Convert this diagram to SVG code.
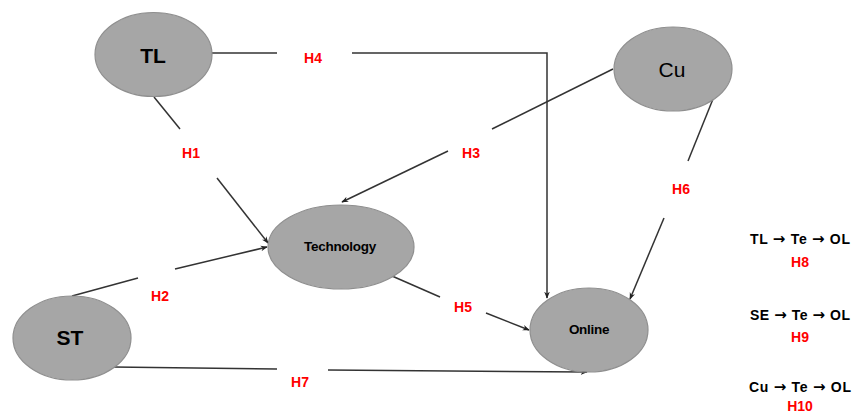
<svg xmlns="http://www.w3.org/2000/svg" width="857" height="416" viewBox="0 0 857 416">
<style>
.node{fill:#a6a6a6;stroke:#8f8f8f;stroke-width:1.2}
.lbl{font-family:"Liberation Sans",Arial,sans-serif;fill:#000;text-anchor:middle;dominant-baseline:central}
.big{font-size:21px;font-weight:bold}
.cu{font-size:21px;font-weight:normal}
.small{font-size:13.5px;font-weight:bold;letter-spacing:-0.3px}
.h{font-family:"Liberation Sans",Arial,sans-serif;font-size:14px;font-weight:bold;fill:#ff0000;text-anchor:middle;dominant-baseline:central}
.leg{font-family:"Liberation Sans",Arial,sans-serif;font-size:14px;font-weight:bold;fill:#000;text-anchor:middle;dominant-baseline:central}
.ar{font-family:"DejaVu Sans",sans-serif;font-weight:bold;font-size:15px}
.c{fill:none;stroke:#333;stroke-width:1.5}
</style>
<defs>
<marker id="arr" viewBox="0 0 10 10" refX="9" refY="5" markerWidth="7" markerHeight="7" orient="auto" markerUnits="userSpaceOnUse">
<path d="M0,1 L10,5 L0,9 L3,5 Z" fill="#222"/>
</marker>
</defs>
<rect width="857" height="416" fill="#fff"/>
<g id="connectors">
<path class="c" d="M212,53 L277,53"/>
<path class="c" d="M352,53 L547,53 L547,298" marker-end="url(#arr)"/>
<path class="c" d="M154,97 L180,129"/>
<path class="c" d="M217,178 L268,243" marker-end="url(#arr)"/>
<path class="c" d="M613,69 L492,129"/>
<path class="c" d="M448,151 L342,202" marker-end="url(#arr)"/>
<path class="c" d="M713,99 L688,161"/>
<path class="c" d="M664,218 L630,299" marker-end="url(#arr)"/>
<path class="c" d="M72,296 L138,278"/>
<path class="c" d="M175,269 L267,247" marker-end="url(#arr)"/>
<path class="c" d="M392,276 L440,297"/>
<path class="c" d="M486,313 L529,330" marker-end="url(#arr)"/>
<path class="c" d="M113,367 L277,369"/>
<path class="c" d="M328,370 L587,372" marker-end="url(#arr)"/>
</g>
<g id="TL"><ellipse class="node" cx="153.5" cy="54.5" rx="58.5" ry="42"/><text class="lbl big" x="153" y="55">TL</text></g>
<g id="Cu"><ellipse class="node" cx="673" cy="69" rx="59" ry="42"/><text class="lbl cu" x="672" y="69">Cu</text></g>
<g id="Technology"><ellipse class="node" cx="341" cy="247" rx="73" ry="42"/><text class="lbl small" x="340" y="246">Technology</text></g>
<g id="ST"><ellipse class="node" cx="72" cy="338" rx="59" ry="42"/><text class="lbl big" x="70" y="337">ST</text></g>
<g id="Online"><ellipse class="node" cx="589" cy="330" rx="59" ry="42"/><text class="lbl small" x="589" y="329">Online</text></g>
<g id="labels">
<text class="h" x="313" y="58">H4</text>
<text class="h" x="191" y="153">H1</text>
<text class="h" x="471" y="153">H3</text>
<text class="h" x="681" y="189">H6</text>
<text class="h" x="160" y="296">H2</text>
<text class="h" x="463" y="307">H5</text>
<text class="h" x="300" y="382">H7</text>
</g>
<g id="legend">
<text class="leg" x="800" y="239" textLength="100" lengthAdjust="spacing">TL <tspan class="ar">→</tspan> Te <tspan class="ar">→</tspan> OL</text>
<text class="h" x="800" y="262">H8</text>
<text class="leg" x="800" y="315" textLength="100" lengthAdjust="spacing">SE <tspan class="ar">→</tspan> Te <tspan class="ar">→</tspan> OL</text>
<text class="h" x="800" y="337">H9</text>
<text class="leg" x="800" y="387" textLength="102" lengthAdjust="spacing">Cu <tspan class="ar">→</tspan> Te <tspan class="ar">→</tspan> OL</text>
<text class="h" x="800" y="406">H10</text>
</g>
</svg>
